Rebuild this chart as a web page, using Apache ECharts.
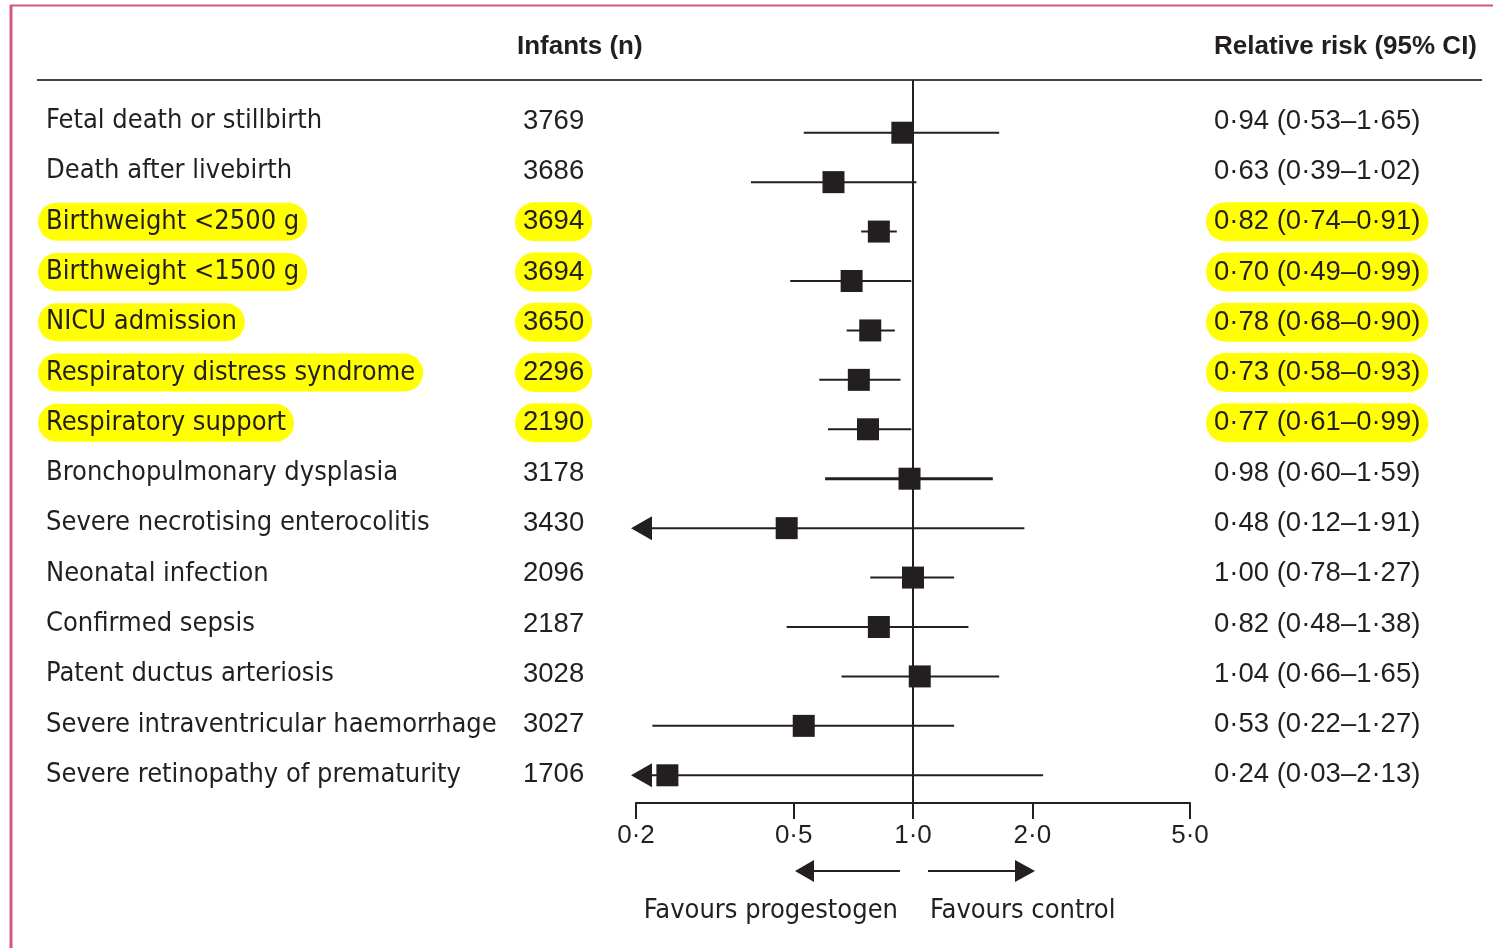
<!DOCTYPE html>
<html><head><meta charset="utf-8">
<script src="https://cdn.jsdelivr.net/npm/echarts@6/dist/echarts.min.js"></script>
<style>html,body{margin:0;padding:0;background:#fff}#c{width:1493px;height:948px}</style>
</head><body><div id="c"></div>
<script>
// ---- data ----
const outcomes = [
  'Fetal death or stillbirth', 'Death after livebirth', 'Birthweight <2500 g', 'Birthweight <1500 g',
  'NICU admission', 'Respiratory distress syndrome', 'Respiratory support', 'Bronchopulmonary dysplasia',
  'Severe necrotising enterocolitis', 'Neonatal infection', 'Confirmed sepsis', 'Patent ductus arteriosis',
  'Severe intraventricular haemorrhage', 'Severe retinopathy of prematurity'
];
const infants = [3769, 3686, 3694, 3694, 3650, 2296, 2190, 3178, 3430, 2096, 2187, 3028, 3027, 1706];
const rr     = [0.94, 0.63, 0.82, 0.70, 0.78, 0.73, 0.77, 0.98, 0.48, 1.00, 0.82, 1.04, 0.53, 0.24];
const ciLow  = [0.53, 0.39, 0.74, 0.49, 0.68, 0.58, 0.61, 0.60, 0.12, 0.78, 0.48, 0.66, 0.22, 0.03];
const ciHigh = [1.65, 1.02, 0.91, 0.99, 0.90, 0.93, 0.99, 1.59, 1.91, 1.27, 1.38, 1.65, 1.27, 2.13];
const highlighted = [false, false, true, true, true, true, true, false, false, false, false, false, false, false];
const tickValues = [0.2, 0.5, 1.0, 2.0, 5.0];
const axisMin = 0.2, axisMax = 5.0;
const headerInfants = 'Infants (n)';
const headerRR = 'Relative risk (95% CI)';
const favoursLeft = 'Favours progestogen';
const favoursRight = 'Favours control';

// ---- helpers ----
const L = v => Math.log10(v);
const fmt2 = v => v.toFixed(2).replace('.', '·');
const fmt1 = v => v.toFixed(1).replace('.', '·');
const ink = '#231f20';
const labelFont = '27px "Liberation Sans Narrow", "DejaVu Sans Condensed", sans-serif';
const numFont = '27.5px "Liberation Sans", sans-serif';
const yellow = '#ffff00';

const chart = echarts.init(document.getElementById('c'), null, {renderer: 'canvas'});

function textEl(text, x, y, font, hl) {
  const st = {text, x: hl ? x - 8 : x, y, fill: ink, font, align: 'left', verticalAlign: 'middle'};
  if (hl) { st.backgroundColor = yellow; st.padding = [6, 8, 5, 8]; st.borderRadius = 20; }
  return {type: 'text', style: st};
}

const option = {
  animation: false,
  backgroundColor: '#ffffff',
  grid: [
    {left: 636, right: 303, top: 108, bottom: 148},
    {left: 0, right: 0, top: 96, bottom: 148}
  ],
  xAxis: [
    {
      gridIndex: 0, type: 'value', min: L(axisMin), max: L(axisMax), offset: 3,
      axisLine: {show: true, lineStyle: {color: ink, width: 2}},
      axisTick: {show: true, customValues: tickValues.map(L), length: 16, lineStyle: {color: ink, width: 2}},
      axisLabel: {customValues: tickValues.map(L), formatter: v => fmt1(Math.pow(10, v)),
        margin: 20, color: ink, fontSize: 26, fontFamily: '"Liberation Sans", sans-serif'},
      splitLine: {show: false}
    },
    {gridIndex: 1, type: 'value', min: 0, max: 1493, show: false}
  ],
  yAxis: [
    {gridIndex: 0, type: 'category', data: outcomes, inverse: true, show: false},
    {gridIndex: 1, type: 'category', data: outcomes, inverse: true, show: false}
  ],
  series: [
    { // reference line at RR = 1
      type: 'custom', xAxisIndex: 0, yAxisIndex: 0, z: 1, silent: true,
      data: [[L(1), 0]],
      renderItem(params, api) {
        const x = api.coord([api.value(0), 0])[0];
        const cs = params.coordSys;
        return {type: 'line', shape: {x1: x, y1: 80, x2: x, y2: cs.y + cs.height + 3},
          style: {stroke: ink, lineWidth: 2}};
      }
    },
    { // confidence intervals
      type: 'custom', xAxisIndex: 0, yAxisIndex: 0, z: 2, silent: true,
      data: outcomes.map((o, i) => [i, L(ciLow[i]), L(ciHigh[i])]),
      renderItem(params, api) {
        const i = api.value(0), lo = api.value(1), hi = api.value(2);
        const minL = L(axisMin);
        const clipped = lo < minL;
        const p1 = api.coord([clipped ? minL : lo, i]);
        const p2 = api.coord([hi, i]);
        const w = outcomes[i] === 'Bronchopulmonary dysplasia' ? 3 : 2;
        const ch = [{type: 'line', shape: {x1: p1[0] + (clipped ? 10 : 0), y1: p1[1], x2: p2[0], y2: p2[1]},
          style: {stroke: ink, lineWidth: w}}];
        if (clipped) {
          ch.push({type: 'polygon', shape: {points: [[p1[0] - 5, p1[1]], [p1[0] + 16, p1[1] - 12], [p1[0] + 16, p1[1] + 12]]},
            style: {fill: ink}});
        }
        return {type: 'group', children: ch};
      }
    },
    { // point estimates
      type: 'scatter', xAxisIndex: 0, yAxisIndex: 0, z: 3, silent: true,
      symbol: 'rect', symbolSize: 22,
      itemStyle: {color: ink, opacity: 1},
      data: rr.map((v, i) => [L(v), i])
    },
    { // table text
      type: 'custom', xAxisIndex: 1, yAxisIndex: 1, z: 4, silent: true,
      data: outcomes.map((o, i) => [0, i]),
      renderItem(params, api) {
        const i = api.value(1);
        const y = api.coord([0, i])[1];
        const hl = highlighted[i];
        return {type: 'group', children: [
          textEl(outcomes[i], 46, y, labelFont, hl),
          textEl(String(infants[i]), 523, y, numFont, hl),
          textEl(fmt2(rr[i]) + ' (' + fmt2(ciLow[i]) + '–' + fmt2(ciHigh[i]) + ')', 1214, y, numFont, hl)
        ]};
      }
    }
  ],
  graphic: [
    // page frame
    {type: 'line', shape: {x1: 10, y1: 5.5, x2: 1493, y2: 5.5}, style: {stroke: '#d4587d', lineWidth: 2}},
    {type: 'line', shape: {x1: 11, y1: 5, x2: 11, y2: 948}, style: {stroke: '#d4587d', lineWidth: 3}},
    // header
    {type: 'text', style: {text: headerInfants, x: 517, y: 47, fill: ink, font: 'bold 26px "Liberation Sans Narrow", sans-serif', align: 'left', verticalAlign: 'middle'}},
    {type: 'text', style: {text: headerRR, x: 1214, y: 47, fill: ink, font: 'bold 26px "Liberation Sans Narrow", sans-serif', align: 'left', verticalAlign: 'middle'}},
    {type: 'line', shape: {x1: 37, y1: 80, x2: 1482, y2: 80}, style: {stroke: '#444', lineWidth: 2}},
    // favours arrows
    {type: 'line', shape: {x1: 812, y1: 871, x2: 900, y2: 871}, style: {stroke: ink, lineWidth: 2}},
    {type: 'polygon', shape: {points: [[795, 871], [814, 860], [814, 882]]}, style: {fill: ink}},
    {type: 'line', shape: {x1: 928, y1: 871, x2: 1017, y2: 871}, style: {stroke: ink, lineWidth: 2}},
    {type: 'polygon', shape: {points: [[1035, 871], [1015, 860], [1015, 882]]}, style: {fill: ink}},
    {type: 'text', style: {text: favoursLeft, x: 898, y: 911, fill: ink, font: labelFont, align: 'right', verticalAlign: 'middle'}},
    {type: 'text', style: {text: favoursRight, x: 930, y: 911, fill: ink, font: labelFont, align: 'left', verticalAlign: 'middle'}}
  ]
};
chart.setOption(option);
</script>
</body></html>
